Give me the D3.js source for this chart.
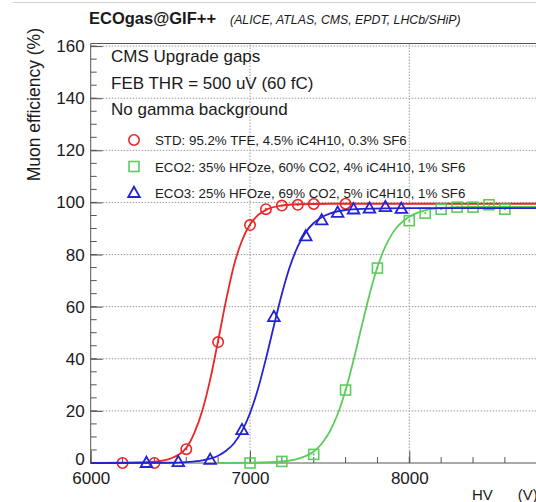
<!DOCTYPE html>
<html>
<head>
<meta charset="utf-8">
<script src="https://cdn.jsdelivr.net/npm/d3@7"></script>
<style>
  body { margin: 0; background: #fff; }
  text { font-family: "Liberation Sans", Arial, Helvetica, sans-serif; fill: #1a1a1a; }
</style>
</head>
<body>
<script>
// Measured points (HV in V, efficiency in %)
const stdHV  = [6200, 6400, 6600, 6800, 7000, 7100, 7200, 7300, 7400, 7600];
const stdEff = [0, 0, 5.3, 46.4, 91.3, 97.4, 98.8, 99.1, 99.4, 99.5];

const eco2HV  = [7000, 7200, 7400, 7600, 7800, 8000, 8100, 8200, 8300, 8400, 8500, 8600];
const eco2Eff = [0, 0.6, 3.3, 28, 74.8, 93, 95.9, 97.4, 98.2, 98.2, 99.1, 97.4];

const eco3HV  = [6350, 6550, 6750, 6950, 7150, 7350, 7450, 7550, 7650, 7750, 7850, 7950];
const eco3Eff = [0, 0.3, 1.2, 12.6, 56, 87, 93.1, 96, 97.3, 97.6, 98.2, 97.5];

// Fit curves
const stdFitHV  = [6000, 6300, 6400, 6500, 6600, 6650, 6700, 6750, 6800, 6850, 6900, 6950, 7000, 7050, 7100, 7200, 7300, 7500, 9000];
const stdFitEff = [0, 0.2, 0.5, 1.7, 5.8, 11.5, 20, 32, 47, 62.5, 76, 85.4, 91.5, 95.1, 97.1, 98.8, 99.3, 99.5, 99.5];

const eco2FitHV  = [6800, 7000, 7200, 7300, 7400, 7450, 7500, 7550, 7600, 7650, 7700, 7750, 7800, 7850, 7900, 8000, 8100, 8200, 8400, 9000];
const eco2FitEff = [0, 0.1, 0.6, 1.6, 4.4, 7.4, 12, 18.7, 27.9, 39.5, 52.2, 64.6, 75.2, 83.1, 88.7, 94.5, 97, 97.9, 98.3, 98.3];

const eco3FitHV  = [6000, 6500, 6600, 6700, 6800, 6850, 6900, 6950, 7000, 7050, 7100, 7150, 7200, 7250, 7300, 7350, 7400, 7450, 7500, 7600, 7700, 8000, 9000];
const eco3FitEff = [0, 0.1, 0.35, 1, 2.8, 4.7, 7.6, 12.3, 19.1, 28.4, 40, 52.7, 64.9, 75.3, 83.1, 88.6, 92.1, 94.3, 95.7, 97.1, 97.5, 97.8, 97.8];

const legendLabels = [
    "STD: 95.2% TFE, 4.5% iC4H10, 0.3% SF6",
    "ECO2: 35% HFOze, 60% CO2, 4% iC4H10, 1% SF6",
    "ECO3: 25% HFOze, 69% CO2, 5% iC4H10, 1% SF6"
];
const infoLines = ["CMS Upgrade gaps", "FEB THR = 500 uV (60 fC)", "No gamma background"];

const xLabels = [6000, 7000, 8000];
const xGrid = [7000, 8000, 9000];
const yMajor = [0, 20, 40, 60, 80, 100, 120, 140, 160];

const red = "#ea2626", green = "#5ccc5c", blue = "#2323d2";

const W = 536, H = 502;
const svg = d3.select("body").append("svg")
    .attr("width", W)
    .attr("height", H);

// thin line at the very top of the picture
svg.append("line")
    .attr("x1", 13).attr("x2", W).attr("y1", 2.5).attr("y2", 2.5)
    .attr("stroke", "#cfcfcf").attr("stroke-width", 1);

const x = d3.scaleLinear().domain([6000, 9000]).range([90.7, 568.6]);
const y = d3.scaleLinear().domain([0, 161]).range([463, 43.5]);

// grid
svg.append("g").selectAll("line")
    .data(xGrid)
    .enter().append("line")
    .attr("x1", d => x(d)).attr("x2", d => x(d))
    .attr("y1", y(0)).attr("y2", y(161))
    .attr("stroke", "#9a9a9a").attr("stroke-width", 1)
    .attr("stroke-dasharray", "1.5,1.5");

svg.append("g").selectAll("line")
    .data(yMajor.slice(1))
    .enter().append("line")
    .attr("x1", x(6000)).attr("x2", x(9000))
    .attr("y1", d => y(d)).attr("y2", d => y(d))
    .attr("stroke", "#9a9a9a").attr("stroke-width", 1)
    .attr("stroke-dasharray", "1.5,1.5");

// frame (left, top, bottom)
svg.append("path")
    .attr("d", `M${x(9000)},${y(161)}H${x(6000)}V${y(0)}H${x(9000)}`)
    .attr("fill", "none").attr("stroke", "#555").attr("stroke-width", 1);

// minor ticks
svg.append("g").selectAll("line")
    .data(d3.range(6000, 9001, 200))
    .enter().append("line")
    .attr("x1", d => x(d)).attr("x2", d => x(d))
    .attr("y1", y(0)).attr("y2", y(0) - 6)
    .attr("stroke", "#555");

svg.append("g").selectAll("line")
    .data(d3.range(0, 161, 5))
    .enter().append("line")
    .attr("x1", x(6000)).attr("x2", x(6000) + 6)
    .attr("y1", d => y(d)).attr("y2", d => y(d))
    .attr("stroke", "#555");

// axes
const xAxis = svg.append("g")
    .attr("transform", `translate(0,${y(0)})`)
    .call(d3.axisBottom(x).tickValues(xLabels).tickFormat(d3.format("d"))
        .tickSizeInner(-12).tickSizeOuter(0).tickPadding(9));

const yAxis = svg.append("g")
    .attr("transform", `translate(${x(6000)},0)`)
    .call(d3.axisLeft(y).tickValues(yMajor).tickSizeInner(-12).tickSizeOuter(0).tickPadding(6));

[xAxis, yAxis].forEach(a => {
    a.select(".domain").remove();
    a.selectAll(".tick line").attr("stroke", "#555");
    a.selectAll(".tick text")
        .style("font-family", '"Liberation Sans", Arial, Helvetica, sans-serif')
        .style("font-size", "17px")
        .attr("fill", "#1a1a1a");
});
// ROOT lifts the "0" a little above the corner
yAxis.selectAll(".tick text").filter(d => d === 0).attr("dy", "0.1em");

// axis titles
svg.append("text")
    .attr("transform", "translate(40,28) rotate(-90)")
    .attr("text-anchor", "end")
    .style("font-size", "17.5px")
    .text("Muon efficiency (%)");

svg.append("text")
    .attr("x", 472).attr("y", 500)
    .style("font-size", "15px")
    .attr("xml:space", "preserve")
    .text("HV      (V)");

// title
const title = svg.append("text").attr("x", 89).attr("y", 24);
title.append("tspan").style("font-size", "16.5px").style("font-weight", "bold").text("ECOgas@GIF++");
title.append("tspan").attr("dx", 14).style("font-size", "12.3px").style("font-style", "italic")
    .text("(ALICE, ATLAS, CMS, EPDT, LHCb/SHiP)");

// info text
svg.append("g").selectAll("text")
    .data(infoLines)
    .enter().append("text")
    .attr("x", 111)
    .attr("y", (d, i) => 62 + i * 26.5)
    .style("font-size", "17px")
    .text(d => d);

// fit curves
const line = d3.line()
    .x(d => x(d[0]))
    .y(d => y(d[1]))
    .curve(d3.curveMonotoneX);

const series = [
    { hv: stdHV, eff: stdEff, fitHV: stdFitHV, fitEff: stdFitEff, color: red, shape: "circle" },
    { hv: eco2HV, eff: eco2Eff, fitHV: eco2FitHV, fitEff: eco2FitEff, color: green, shape: "square" },
    { hv: eco3HV, eff: eco3Eff, fitHV: eco3FitHV, fitEff: eco3FitEff, color: blue, shape: "triangle" }
];

function drawMarker(g, shape, color) {
    if (shape === "circle") {
        g.append("circle").attr("r", 5.2)
            .attr("fill", "none").attr("stroke", color).attr("stroke-width", 1.6);
    } else if (shape === "square") {
        g.append("rect").attr("x", -5).attr("y", -5).attr("width", 10).attr("height", 10)
            .attr("fill", "none").attr("stroke", color).attr("stroke-width", 1.6);
    } else {
        g.append("path").attr("d", "M0,-6.3L5.8,4L-5.8,4Z")
            .attr("fill", "none").attr("stroke", color).attr("stroke-width", 1.8);
    }
}

series.forEach(s => {
    const pts = s.fitHV.map((h, i) => [h, s.fitEff[i]]);
    svg.append("path")
        .datum(pts)
        .attr("d", line)
        .attr("fill", "none")
        .attr("stroke", s.color)
        .attr("stroke-width", 1.8);

    s.hv.forEach((h, i) => {
        const g = svg.append("g").attr("transform", `translate(${x(h)},${y(s.eff[i])})`);
        drawMarker(g, s.shape, s.color);
        if (s.shape !== "triangle") {
            g.append("circle").attr("r", 1.1).attr("fill", s.color);
        }
    });
});

// legend
const legend = svg.append("g");
legendLabels.forEach((label, i) => {
    const cy = 140 + i * 26.5;
    const g = legend.append("g").attr("transform", `translate(134,${cy})`);
    drawMarker(g, series[i].shape, series[i].color);
    legend.append("text")
        .attr("x", 155)
        .attr("y", cy + 5)
        .style("font-size", "13.3px")
        .text(label);
});
</script>
</body>
</html>
